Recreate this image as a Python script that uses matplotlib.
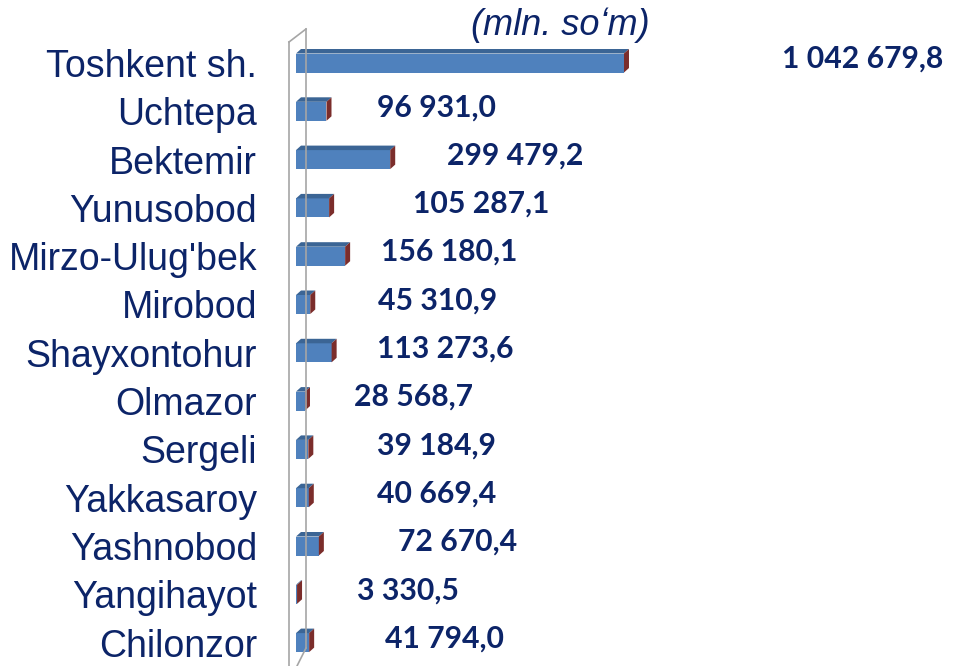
import matplotlib.pyplot as plt
from matplotlib.patches import Polygon
from matplotlib.lines import Line2D

districts = ["Toshkent sh.", "Uchtepa", "Bektemir", "Yunusobod", "Mirzo-Ulug'bek",
             "Mirobod", "Shayxontohur", "Olmazor", "Sergeli", "Yakkasaroy",
             "Yashnobod", "Yangihayot", "Chilonzor"]
values = [1042679.8, 96931.0, 299479.2, 105287.1, 156180.1, 45310.9,
          113273.6, 28568.7, 39184.9, 40669.4, 72670.4, 3330.5, 41794.0]
value_labels = ["1 042 679,8", "96 931,0", "299 479,2", "105 287,1", "156 180,1",
                "45 310,9", "113 273,6", "28 568,7", "39 184,9", "40 669,4",
                "72 670,4", "3 330,5", "41 794,0"]

# label left edge, pixels right of the axis start
label_dx = [486, 81, 151, 117, 85, 82, 81, 58, 81, 81, 102, 61, 89]

navy = "#0c2468"
front = "#4f81bd"
top_c = "#3b6595"
side = "#7b2d2b"

W, H = 960, 666
fig = plt.figure(figsize=(W / 100, H / 100), dpi=100)
ax_left = 296
ax = fig.add_axes([ax_left / W, 0, (W - ax_left) / W, 1])

px = 3179.0  # data units per pixel on x
xmax = (W - ax_left) * px
row = 48.3
first = 63
ax.set_xlim(0, xmax)
ax.set_ylim((H - first) / row, -first / row)

bh = 19 / row
dx = 5 * px
dy = 4.5 / row

for i, v in enumerate(values):
    top = i - bh / 2
    bot = i + bh / 2
    ax.barh(i, v, height=bh, color=front, edgecolor="none", zorder=3)
    ax.add_patch(Polygon([(0, top), (v, top), (v + dx, top - dy), (dx, top - dy)],
                         closed=True, facecolor=top_c, edgecolor="none", zorder=3))
    ax.add_patch(Polygon([(v, bot), (v, top), (v + dx, top - dy), (v + dx, bot - dy)],
                         closed=True, facecolor=side, edgecolor="none", zorder=3))
    ax.annotate(value_labels[i], xy=(0, i), xytext=(label_dx[i] * 0.72, 3),
                textcoords="offset points", ha="left", va="center",
                fontsize=21.7, fontweight="bold", family="Lato", color=navy)

ax.set_yticks(range(len(districts)))
ax.set_yticklabels(districts, family="Liberation Sans", fontsize=27, color=navy)
ax.tick_params(axis="y", length=0, pad=28)
ax.set_xticks([])
for s in ax.spines.values():
    s.set_visible(False)
ax.patch.set_alpha(0)

# 3d wall outline
wall = "#a6a6a6"
def fl(xs, ys):
    fig.add_artist(Line2D([x / W for x in xs], [1 - y / H for y in ys],
                          color=wall, lw=1.2, zorder=1))
fl([289, 289], [42, 666])
fl([289, 306], [42, 29])
fl([306, 306], [29, 648])
fl([306, 297], [648, 666])

fig.text(560 / W, 1 - 25 / H, "(mln. so\u02bbm)", ha="center", va="center",
         fontsize=26, style="italic", color=navy,
         family=["Liberation Sans", "DejaVu Sans"])

fig.savefig("out.png", dpi=100)
